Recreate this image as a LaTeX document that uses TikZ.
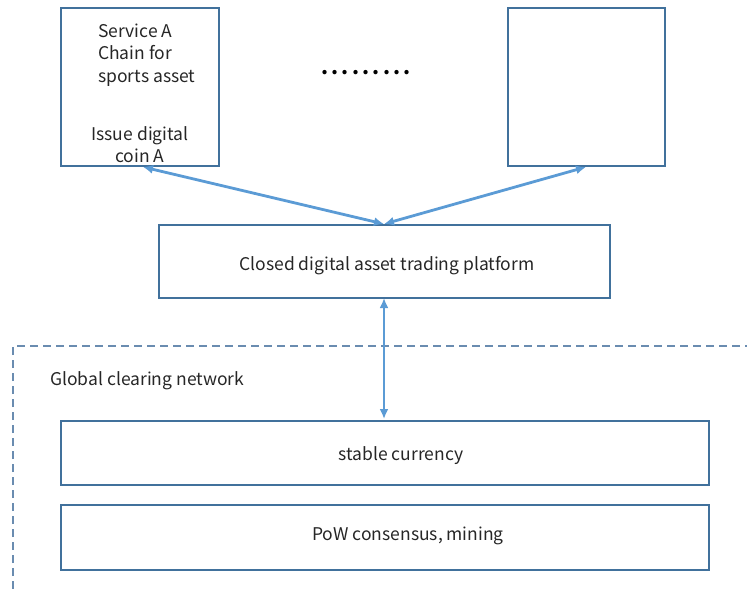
\documentclass[tikz,border=0pt]{standalone}
\usepackage{fontspec}
\setmainfont{Noto Sans CJK SC}
\usetikzlibrary{arrows.meta}
\definecolor{boxc}{HTML}{41719C}
\definecolor{arrc}{HTML}{5B9BD5}
\definecolor{dashc}{HTML}{6A8CB0}
\begin{document}
\begin{tikzpicture}[x=1pt,y=-1pt,
  box/.style={draw=boxc,line width=1.1pt,inner sep=0pt},
  txt/.style={font=\fontsize{17.5}{22.5}\selectfont,inner sep=0pt,text=black!85},
  link/.style={draw=arrc,line width=2.8pt,{Latex[length=10pt,width=9pt]}-{Latex[length=10pt,width=9pt]}},
  sep/.style={draw=dashc,line width=1.1pt,dash pattern=on 8pt off 5pt}]
\useasboundingbox (0,0) rectangle (747,589);
% boxes
\node[box,minimum width=158pt,minimum height=158pt] (a) at (140,87) {};
\node[box,minimum width=157pt,minimum height=158pt] (n) at (586.5,87) {};
\node[box,minimum width=451pt,minimum height=73pt] (p) at (384.5,261.5) {};
\node[box,minimum width=648pt,minimum height=64pt] (s) at (385,453) {};
\node[box,minimum width=648pt,minimum height=65pt] (w) at (385,537.5) {};
% texts
\node[txt,align=left,anchor=north west] (at) at (98,23.5) {Service A\\Chain for\\sports asset};
\node[txt,align=center] (ai) at (140,144.5) {Issue digital\\coin A};
\node[font=\fontsize{20}{20}\selectfont\bfseries,inner sep=0pt] (dots) at (366,73) {.\,.\,.\,.\,.\,.\,.\,.\,.};
\node[txt] (pt) at (387,265.5) {Closed digital asset trading platform};
\node[txt] (st) at (401,455.5) {stable currency};
\node[txt] (wt) at (408,535.5) {PoW consensus, mining};
\node[txt,anchor=west] (g) at (50,380.5) {Global clearing network};
% dashed region
\coordinate (d0) at (13,589);
\coordinate (d1) at (13,346);
\coordinate (d2) at (747,346);
\draw[sep] (d0) -- (d1) -- (d2);
% connectors
\coordinate (pa) at (384,224);
\coordinate (pb) at (384,298);
\coordinate (ab) at (143,167);
\coordinate (nb) at (586,167);
\coordinate (sb) at (384,419);
\draw[link] (ab) -- (pa);
\draw[link] (pa) -- (nb);
\draw[link] (pb) -- (sb);
\end{tikzpicture}
\end{document}
